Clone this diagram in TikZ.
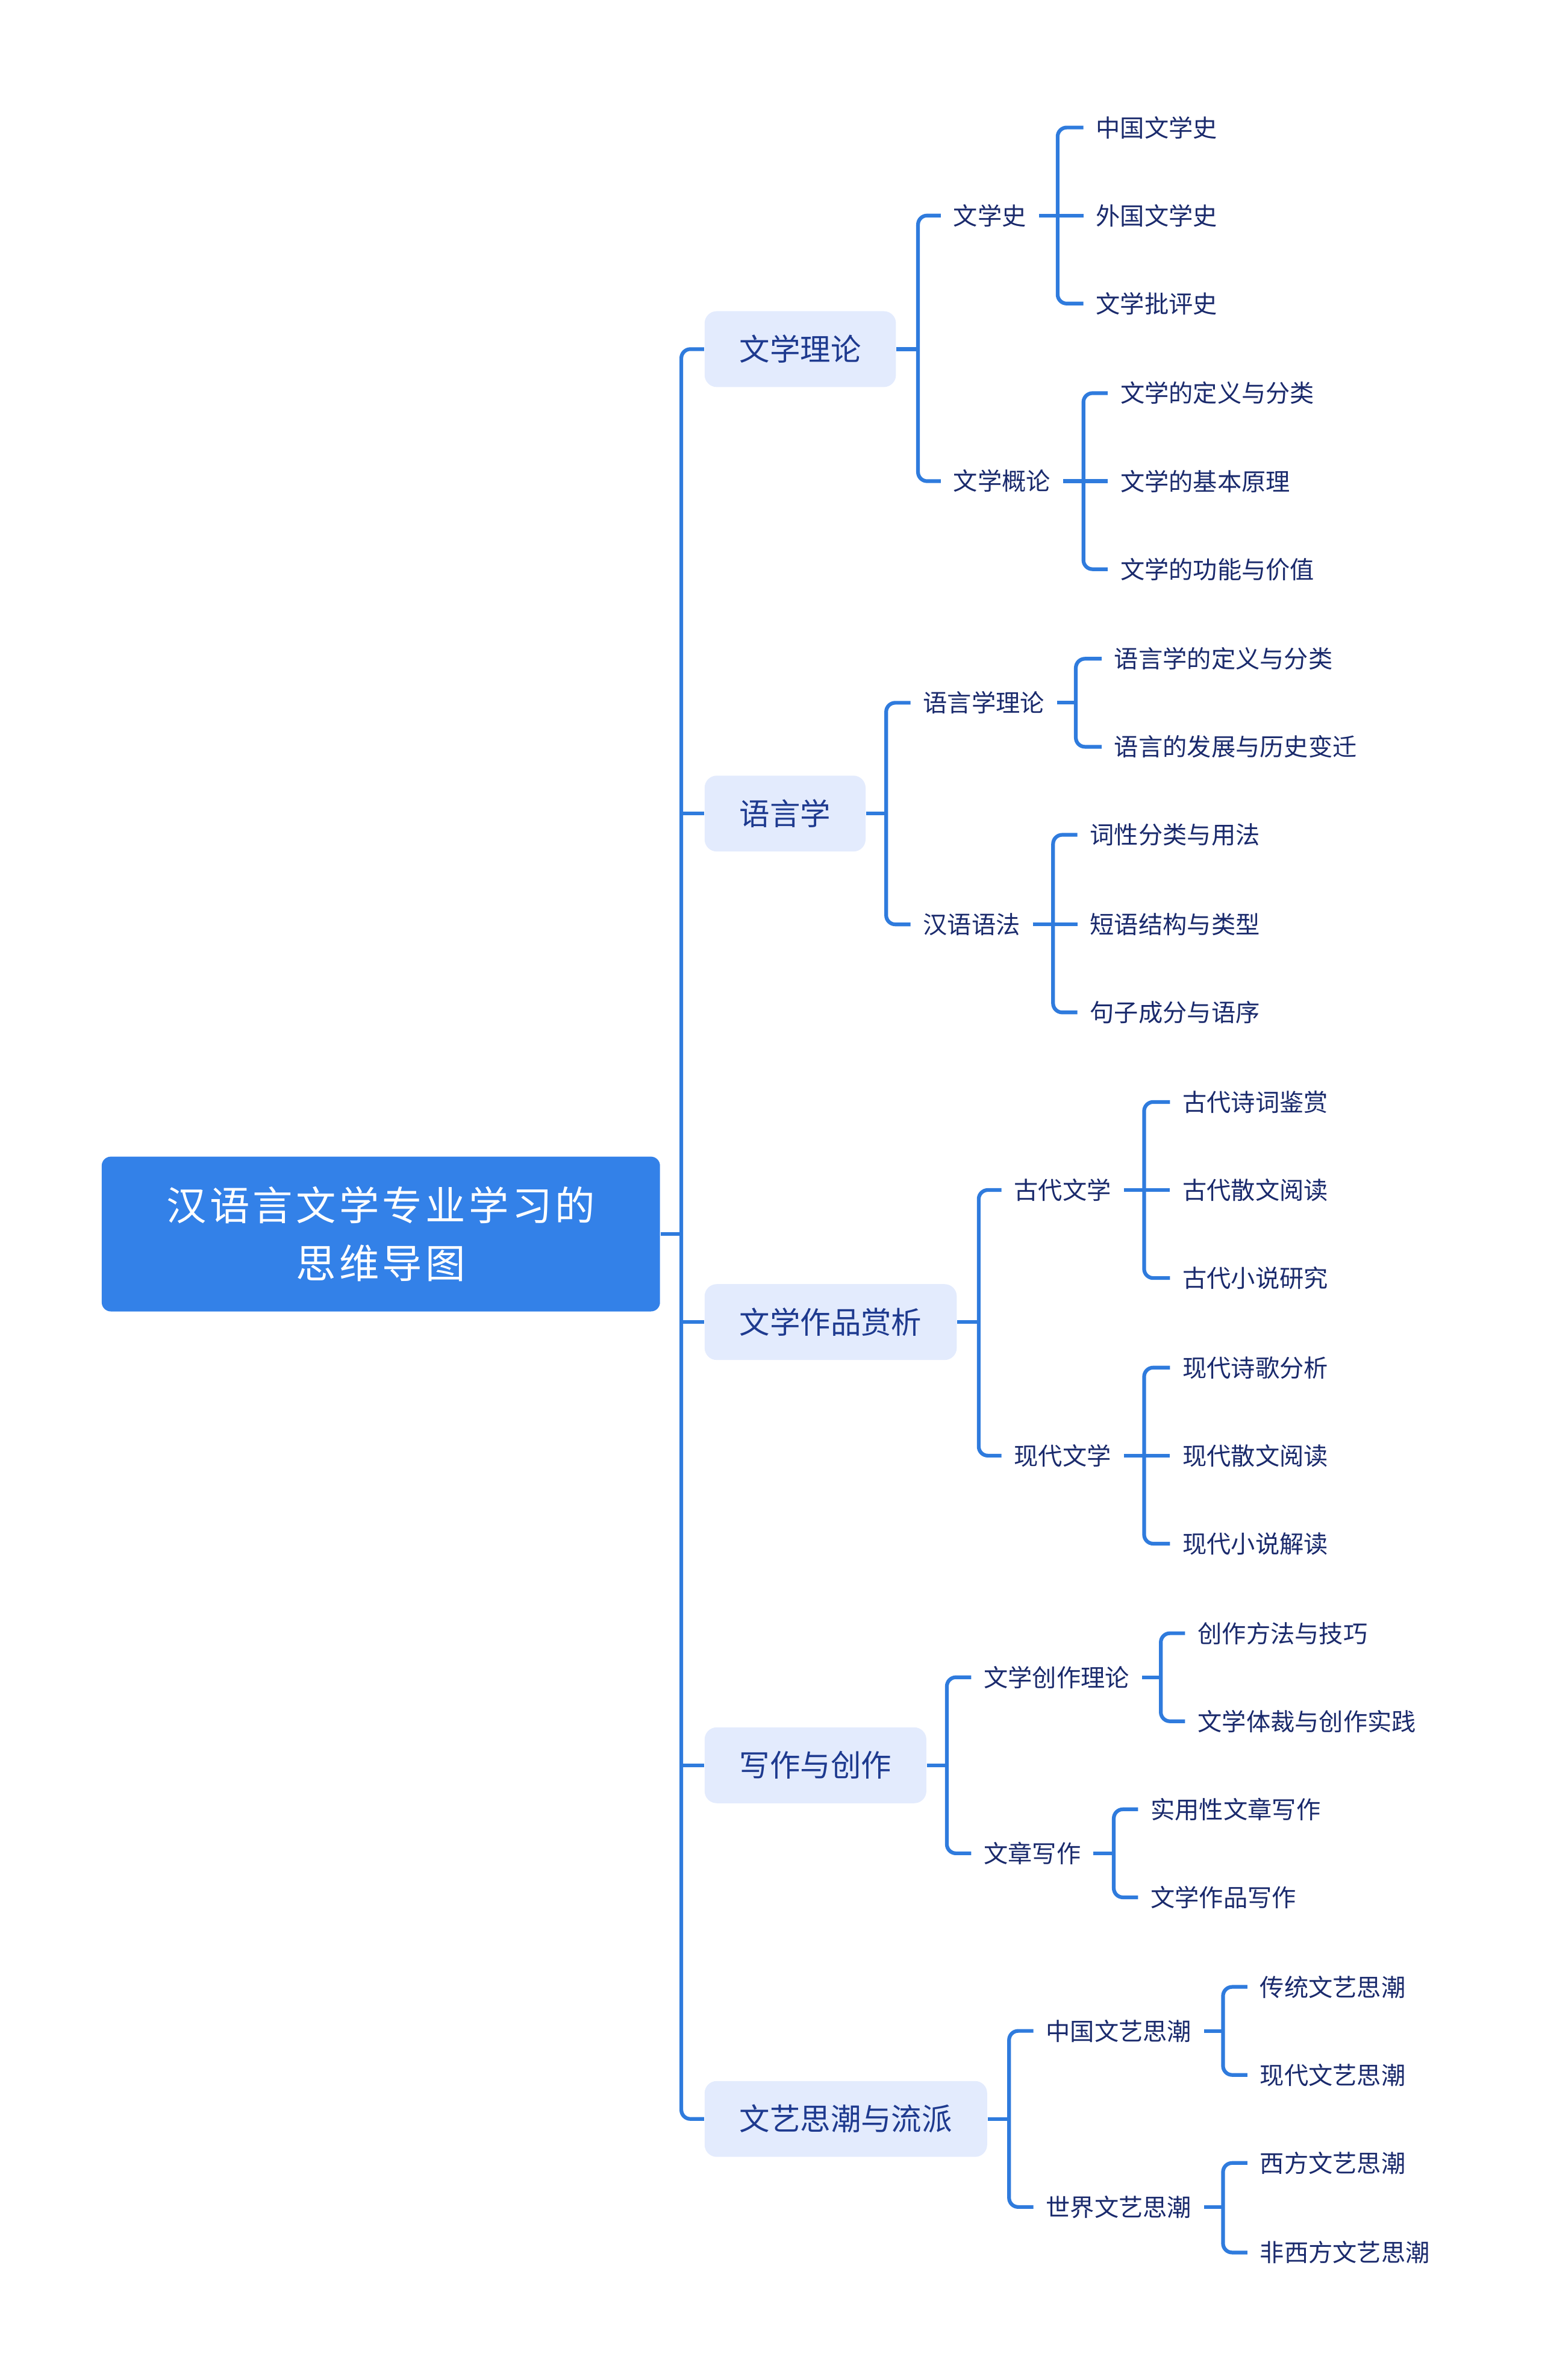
\documentclass[tikz,border=0pt]{standalone}
\usepackage{fontspec}
\newfontfamily\cjk{Noto Sans CJK SC}
\newfontfamily\cjkwide{Noto Sans CJK SC}[LetterSpace=8]
\usepackage{tikz}
\usetikzlibrary{positioning}
\definecolor{rootBlue}{HTML}{3381E8}
\definecolor{linkBlue}{HTML}{2F7BDD}
\definecolor{topicFill}{HTML}{E3EBFD}
\definecolor{topicText}{HTML}{1E3A8F}
\definecolor{leafText}{HTML}{1A2A6C}

\begin{document}
\begin{tikzpicture}[x=0.02cm, y=-0.02cm,
    every node/.style={font=\cjk},
    rootbox/.style={fill=rootBlue, rounded corners=1.2mm, text=white,
                    minimum width=7.36cm, minimum height=2.04cm, align=center,
                    font=\cjkwide\fontsize{15pt}{21.6pt}\selectfont},
    topic/.style={fill=topicFill, rounded corners=1.6mm, text=topicText,
                  anchor=west, inner xsep=0.46cm, minimum height=1cm,
                  font=\cjk\fontsize{11.4pt}{14pt}\selectfont},
    leaf/.style={text=leafText, anchor=west, inner xsep=0.16cm, inner ysep=2pt,
                 font=\cjk\fontsize{9.1pt}{11pt}\selectfont},
    link/.style={draw=linkBlue, line width=1.4pt},
    elbow/.style={link, rounded corners=1.2mm}]
  \useasboundingbox (0,0) rectangle (1016,1568);

  % root and main topics
  \node[rootbox] (root)  at (251,813) {汉语言文学专业学习的\\思维导图};
  \node[topic]   (lit)   at (464,230)  {文学理论};
  \node[topic]   (ling)  at (464,536)  {语言学};
  \node[topic]   (appr)  at (464,871)  {文学作品赏析};
  \node[topic]   (writ)  at (464,1163) {写作与创作};
  \node[topic]   (trend) at (464,1396) {文艺思潮与流派};

  % second level
  \node[leaf] (lhist)  at (620,142)  {文学史};
  \node[leaf] (lintro) at (620,317)  {文学概论};
  \node[leaf] (lingth) at (600,463)  {语言学理论};
  \node[leaf] (gram)   at (600,609)  {汉语语法};
  \node[leaf] (anc)    at (660,784)  {古代文学};
  \node[leaf] (mod)    at (660,959)  {现代文学};
  \node[leaf] (cth)    at (640,1105) {文学创作理论};
  \node[leaf] (essay)  at (640,1221) {文章写作};
  \node[leaf] (cn)     at (681,1338) {中国文艺思潮};
  \node[leaf] (world)  at (681,1454) {世界文艺思潮};

  % third level
  \node[leaf] (lhistA)  at (714,84)   {中国文学史};
  \node[leaf] (lhistB)  at (714,142)  {外国文学史};
  \node[leaf] (lhistC)  at (714,200)  {文学批评史};
  \node[leaf] (lintroA) at (730,259)  {文学的定义与分类};
  \node[leaf] (lintroB) at (730,317)  {文学的基本原理};
  \node[leaf] (lintroC) at (730,375)  {文学的功能与价值};
  \node[leaf] (lingthA) at (726,434)  {语言学的定义与分类};
  \node[leaf] (lingthB) at (726,492)  {语言的发展与历史变迁};
  \node[leaf] (gramA)   at (710,550)  {词性分类与用法};
  \node[leaf] (gramB)   at (710,609)  {短语结构与类型};
  \node[leaf] (gramC)   at (710,667)  {句子成分与语序};
  \node[leaf] (ancA)    at (771,726)  {古代诗词鉴赏};
  \node[leaf] (ancB)    at (771,784)  {古代散文阅读};
  \node[leaf] (ancC)    at (771,842)  {古代小说研究};
  \node[leaf] (modA)    at (771,901)  {现代诗歌分析};
  \node[leaf] (modB)    at (771,959)  {现代散文阅读};
  \node[leaf] (modC)    at (771,1017) {现代小说解读};
  \node[leaf] (cthA)    at (781,1076) {创作方法与技巧};
  \node[leaf] (cthB)    at (781,1134) {文学体裁与创作实践};
  \node[leaf] (essayA)  at (750,1192) {实用性文章写作};
  \node[leaf] (essayB)  at (750,1250) {文学作品写作};
  \node[leaf] (cnA)     at (822,1309) {传统文艺思潮};
  \node[leaf] (cnB)     at (822,1367) {现代文艺思潮};
  \node[leaf] (worldA)  at (822,1425) {西方文艺思潮};
  \node[leaf] (worldB)  at (822,1484) {非西方文艺思潮};

  % bracket points
  \coordinate (bRoot)   at (449,813);
  \coordinate (bLit)    at (605,230);
  \coordinate (bLing)   at (584,536);
  \coordinate (bAppr)   at (645,871);
  \coordinate (bWrit)   at (624,1163);
  \coordinate (bTrend)  at (665,1396);
  \coordinate (bLhist)  at (697,142);
  \coordinate (bLintro) at (714,317);
  \coordinate (bLingth) at (709,463);
  \coordinate (bGram)   at (694,609);
  \coordinate (bAnc)    at (754,784);
  \coordinate (bMod)    at (754,959);
  \coordinate (bCth)    at (765,1105);
  \coordinate (bEssay)  at (734,1221);
  \coordinate (bCn)     at (806,1338);
  \coordinate (bWorld)  at (806,1454);

  % trunk
  \draw[link] (root.east) -- (bRoot);
  \draw[elbow] (lit.west) -| (bRoot) |- (trend.west);
  \draw[link] (bRoot |- ling.west) -- (ling.west);
  \draw[link] (bRoot |- appr.west) -- (appr.west);
  \draw[link] (bRoot |- writ.west) -- (writ.west);

  % main topics to second level
  \draw[link] (lit.east) -- (bLit);
  \draw[elbow] (lhist.west) -| (bLit) |- (lintro.west);
  \draw[link] (ling.east) -- (bLing);
  \draw[elbow] (lingth.west) -| (bLing) |- (gram.west);
  \draw[link] (appr.east) -- (bAppr);
  \draw[elbow] (anc.west) -| (bAppr) |- (mod.west);
  \draw[link] (writ.east) -- (bWrit);
  \draw[elbow] (cth.west) -| (bWrit) |- (essay.west);
  \draw[link] (trend.east) -- (bTrend);
  \draw[elbow] (cn.west) -| (bTrend) |- (world.west);

  % second level to third level
  \draw[link] (lhist.east) -- (bLhist);
  \draw[elbow] (lhistA.west) -| (bLhist) |- (lhistC.west);
  \draw[link] (bLhist) -- (lhistB.west);
  \draw[link] (lintro.east) -- (bLintro);
  \draw[elbow] (lintroA.west) -| (bLintro) |- (lintroC.west);
  \draw[link] (bLintro) -- (lintroB.west);
  \draw[link] (lingth.east) -- (bLingth);
  \draw[elbow] (lingthA.west) -| (bLingth) |- (lingthB.west);
  \draw[link] (gram.east) -- (bGram);
  \draw[elbow] (gramA.west) -| (bGram) |- (gramC.west);
  \draw[link] (bGram) -- (gramB.west);
  \draw[link] (anc.east) -- (bAnc);
  \draw[elbow] (ancA.west) -| (bAnc) |- (ancC.west);
  \draw[link] (bAnc) -- (ancB.west);
  \draw[link] (mod.east) -- (bMod);
  \draw[elbow] (modA.west) -| (bMod) |- (modC.west);
  \draw[link] (bMod) -- (modB.west);
  \draw[link] (cth.east) -- (bCth);
  \draw[elbow] (cthA.west) -| (bCth) |- (cthB.west);
  \draw[link] (essay.east) -- (bEssay);
  \draw[elbow] (essayA.west) -| (bEssay) |- (essayB.west);
  \draw[link] (cn.east) -- (bCn);
  \draw[elbow] (cnA.west) -| (bCn) |- (cnB.west);
  \draw[link] (world.east) -- (bWorld);
  \draw[elbow] (worldA.west) -| (bWorld) |- (worldB.west);
\end{tikzpicture}
\end{document}
